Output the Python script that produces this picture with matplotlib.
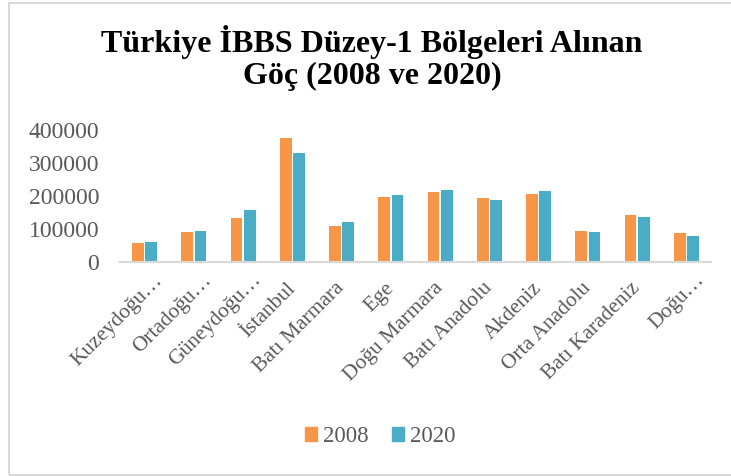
import numpy as np
import matplotlib
matplotlib.use("Agg")
import matplotlib.pyplot as plt
import matplotlib.transforms as mtransforms
from matplotlib.patches import Rectangle

# Data
regions = ["Kuzeydoğu…", "Ortadoğu…", "Güneydoğu…", "İstanbul", "Batı Marmara",
           "Ege", "Doğu Marmara", "Batı Anadolu", "Akdeniz", "Orta Anadolu",
           "Batı Karadeniz", "Doğu…"]
values_2008 = [57000, 91000, 133000, 377000, 108000, 197000, 212000, 195000,
               205000, 95000, 141000, 87000]
values_2020 = [62000, 94000, 159000, 331000, 122000, 204000, 217000, 187000,
               216000, 90000, 135000, 78000]
series_labels = ["2008", "2020"]
yticks = [0, 100000, 200000, 300000, 400000]

color_2008 = "#F79646"
color_2020 = "#4BACC6"
text_gray = "#595959"

plt.rcParams["font.family"] = ["Liberation Serif", "DejaVu Serif"]

W, H = 731, 476
fig = plt.figure(figsize=(W / 100, H / 100), dpi=100)

# chart frame
fig.patches.append(Rectangle((9 / W, 1 / H), 1.0, (472 / H), transform=fig.transFigure,
                             fill=False, edgecolor="#D9D9D9", linewidth=1.5))

ax = fig.add_axes([120 / W, (H - 262) / H, (711 - 120) / W, (262 - 130) / H])

x = np.arange(len(regions))
w = 0.24
ax.bar(x - 0.135, values_2008, width=w, color=color_2008)
ax.bar(x + 0.135, values_2020, width=w, color=color_2020)

ax.set_xlim(-0.5, len(regions) - 0.5)
ax.set_ylim(0, 400000)
ax.set_yticks(yticks)
ax.set_yticklabels([str(v) for v in yticks], fontsize=17, color=text_gray)
ax.set_xticks(x)
ax.set_xticklabels(regions, rotation=45, ha="right", va="center",
                   rotation_mode="anchor", fontsize=15.5, color=text_gray)
ax.tick_params(axis="y", length=0, pad=15)
ax.tick_params(axis="x", length=0, pad=17)

# truncated labels sit a bit further right and higher in the original
for lbl in ax.get_xticklabels():
    if lbl.get_text().endswith("…"):
        lbl.set_transform(lbl.get_transform() +
                          mtransforms.ScaledTranslation(0.15, 0.08, fig.dpi_scale_trans))

for s in ["top", "right", "left"]:
    ax.spines[s].set_visible(False)
ax.spines["bottom"].set_color("#D9D9D9")
ax.spines["bottom"].set_linewidth(1.5)

fig.text(372 / W, 1 - 58 / H, "Türkiye İBBS Düzey-1 Bölgeleri Alınan\nGöç (2008 ve 2020)",
         ha="center", va="center", fontsize=23, fontweight="bold", linespacing=1.1)

handles = [Rectangle((0, 0), 1, 1, color=color_2008), Rectangle((0, 0), 1, 1, color=color_2020)]
fig.legend(handles, series_labels, loc="center", bbox_to_anchor=(380 / W, 1 - 437 / H),
           ncol=2, frameon=False, fontsize=16.5, handlelength=0.55, handleheight=0.55,
           handletextpad=0.25, columnspacing=1.0, labelcolor=text_gray)

fig.savefig("out.png", dpi=100)
